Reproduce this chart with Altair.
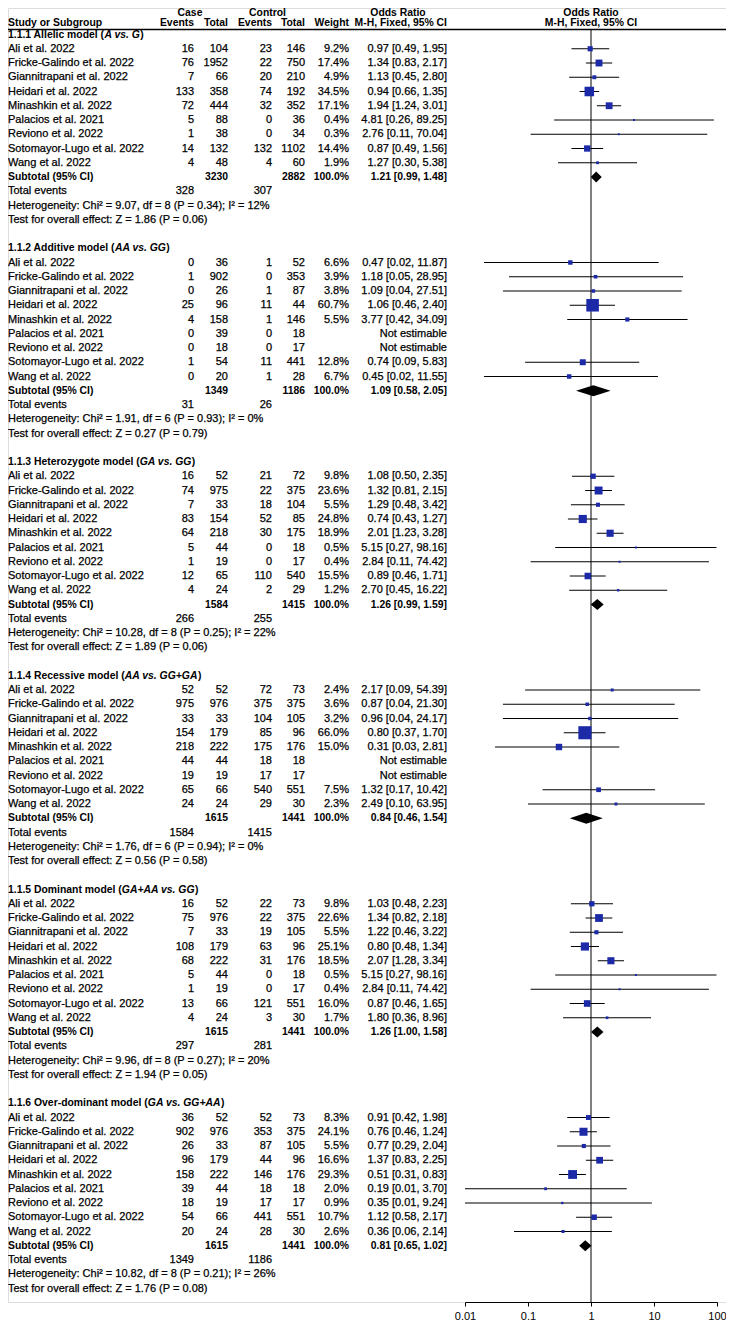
import altair as alt
import pandas as pd

FONT = "Liberation Sans"
FS = 11      # regular text
FSB = 10.4   # bold text

# ---------------- data ----------------
studies = ["Ali et al. 2022", "Fricke-Galindo et al. 2022", "Giannitrapani et al. 2022",
           "Heidari et al. 2022", "Minashkin et al. 2022", "Palacios et al. 2021",
           "Reviono et al. 2022", "Sotomayor-Lugo et al. 2022", "Wang et al. 2022"]

group_codes = ["1.1.1", "1.1.2", "1.1.3", "1.1.4", "1.1.5", "1.1.6"]
group_names = ["Allelic model", "Additive model", "Heterozygote model",
               "Recessive model", "Dominant model", "Over-dominant model"]
group_contrasts = ["A vs. G", "AA vs. GG", "GA vs. GG", "AA vs. GG+GA",
                   "GA+AA vs. GG", "GA vs. GG+AA"]

case_events = [
    [16, 76, 7, 133, 72, 5, 1, 14, 4],
    [0, 1, 0, 25, 4, 0, 0, 1, 0],
    [16, 74, 7, 83, 64, 5, 1, 12, 4],
    [52, 975, 33, 154, 218, 44, 19, 65, 24],
    [16, 75, 7, 108, 68, 5, 1, 13, 4],
    [36, 902, 26, 96, 158, 39, 18, 54, 20],
]
case_totals = [
    [104, 1952, 66, 358, 444, 88, 38, 132, 48],
    [36, 902, 26, 96, 158, 39, 18, 54, 20],
    [52, 975, 33, 154, 218, 44, 19, 65, 24],
    [52, 976, 33, 179, 222, 44, 19, 66, 24],
    [52, 976, 33, 179, 222, 44, 19, 66, 24],
    [52, 976, 33, 179, 222, 44, 19, 66, 24],
]
control_events = [
    [23, 22, 20, 74, 32, 0, 0, 132, 4],
    [1, 0, 1, 11, 1, 0, 0, 11, 1],
    [21, 22, 18, 52, 30, 0, 0, 110, 2],
    [72, 375, 104, 85, 175, 18, 17, 540, 29],
    [22, 22, 19, 63, 31, 0, 0, 121, 3],
    [52, 353, 87, 44, 146, 18, 17, 441, 28],
]
control_totals = [
    [146, 750, 210, 192, 352, 36, 34, 1102, 60],
    [52, 353, 87, 44, 146, 18, 17, 441, 28],
    [72, 375, 104, 85, 175, 18, 17, 540, 29],
    [73, 375, 105, 96, 176, 18, 17, 551, 30],
    [73, 375, 105, 96, 176, 18, 17, 551, 30],
    [73, 375, 105, 96, 176, 18, 17, 551, 30],
]
weights = [
    [9.2, 17.4, 4.9, 34.5, 17.1, 0.4, 0.3, 14.4, 1.9],
    [6.6, 3.9, 3.8, 60.7, 5.5, None, None, 12.8, 6.7],
    [9.8, 23.6, 5.5, 24.8, 18.9, 0.5, 0.4, 15.5, 1.2],
    [2.4, 3.6, 3.2, 66.0, 15.0, None, None, 7.5, 2.3],
    [9.8, 22.6, 5.5, 25.1, 18.5, 0.5, 0.4, 16.0, 1.7],
    [8.3, 24.1, 5.5, 16.6, 29.3, 2.0, 0.9, 10.7, 2.6],
]
odds_ratio = [
    [0.97, 1.34, 1.13, 0.94, 1.94, 4.81, 2.76, 0.87, 1.27],
    [0.47, 1.18, 1.09, 1.06, 3.77, None, None, 0.74, 0.45],
    [1.08, 1.32, 1.29, 0.74, 2.01, 5.15, 2.84, 0.89, 2.70],
    [2.17, 0.87, 0.96, 0.80, 0.31, None, None, 1.32, 2.49],
    [1.03, 1.34, 1.22, 0.80, 2.07, 5.15, 2.84, 0.87, 1.80],
    [0.91, 0.76, 0.77, 1.37, 0.51, 0.19, 0.35, 1.12, 0.36],
]
ci_lower = [
    [0.49, 0.83, 0.45, 0.66, 1.24, 0.26, 0.11, 0.49, 0.30],
    [0.02, 0.05, 0.04, 0.46, 0.42, None, None, 0.09, 0.02],
    [0.50, 0.81, 0.48, 0.43, 1.23, 0.27, 0.11, 0.46, 0.45],
    [0.09, 0.04, 0.04, 0.37, 0.03, None, None, 0.17, 0.10],
    [0.48, 0.82, 0.46, 0.48, 1.28, 0.27, 0.11, 0.46, 0.36],
    [0.42, 0.46, 0.29, 0.83, 0.31, 0.01, 0.01, 0.58, 0.06],
]
ci_upper = [
    [1.95, 2.17, 2.80, 1.35, 3.01, 89.25, 70.04, 1.56, 5.38],
    [11.87, 28.95, 27.51, 2.40, 34.09, None, None, 5.83, 11.55],
    [2.35, 2.15, 3.42, 1.27, 3.28, 98.16, 74.42, 1.71, 16.22],
    [54.39, 21.30, 24.17, 1.70, 2.81, None, None, 10.42, 63.95],
    [2.23, 2.18, 3.22, 1.34, 3.34, 98.16, 74.42, 1.65, 8.96],
    [1.98, 1.24, 2.04, 2.25, 0.83, 3.70, 9.24, 2.17, 2.14],
]
sub_case_total = [3230, 1349, 1584, 1615, 1615, 1615]
sub_control_total = [2882, 1186, 1415, 1441, 1441, 1441]
sub_or = [1.21, 1.09, 1.26, 0.84, 1.26, 0.81]
sub_lo = [0.99, 0.58, 0.99, 0.46, 1.00, 0.65]
sub_hi = [1.48, 2.05, 1.59, 1.54, 1.58, 1.02]
tot_case_events = [328, 31, 266, 1584, 297, 1349]
tot_control_events = [307, 26, 255, 1415, 281, 1186]
het_chi2 = ["9.07", "1.91", "10.28", "1.76", "9.96", "10.82"]
het_df = [8, 6, 8, 6, 8, 8]
het_p = ["0.34", "0.93", "0.25", "0.94", "0.27", "0.21"]
het_i2 = [12, 0, 22, 0, 20, 26]
z_vals = ["1.86", "0.27", "1.89", "0.56", "1.94", "1.76"]
z_p = ["0.06", "0.79", "0.06", "0.58", "0.05", "0.08"]
axis_ticks = [0.01, 0.1, 1, 10, 100]

# ---------------- layout (page pixels) ----------------
W = 718
AXIS_PAGE = 1302
HEIGHT = AXIS_PAGE - 8
ROW = 14.25
FIRST_PAGE = 34.5         # page y of the first group title
HDR1_PAGE = 13.0          # "Case / Control / Odds Ratio"
HDR2_PAGE = 22.5          # "Study or Subgroup ..."
RULE_PAGE = 29.5          # header underline
DIAMOND_HALF = 5.6

def row_y(g, k):
    return FIRST_PAGE + (15 * g + k) * ROW

YS = alt.Scale(domain=[8, 8 + HEIGHT], range=[0, HEIGHT], nice=False, zero=False)
XS = alt.Scale(type="log", domain=[0.01, 100], range=[457, 709], nice=False)
XAXIS = alt.Axis(values=axis_ticks, format="~g", title=None, grid=False,
                 labelFont=FONT, labelFontSize=FS, labelColor="black",
                 domainColor="black", tickColor="black", tickSize=4,
                 labelPadding=4, labelFlush=False, labelOverlap=False)

COLS = {
    "name": (0, "left"),
    "cev": (186, "right"),
    "ctot": (220, "right"),
    "kev": (264, "right"),
    "ktot": (297, "right"),
    "wt": (341, "right"),
    "or": (439, "right"),
    "h_case": (182, "center"),
    "h_ctrl": (259.5, "center"),
    "h_or": (390, "center"),
    "h_plot": (583, "center"),
}

# Arial/Helvetica Bold advance widths (per 1000 em) for title pieces
AB = {" ": 278, "(": 333, ")": 333, "+": 584, "-": 333, ".": 278,
      "A": 722, "D": 722, "G": 778, "H": 722, "O": 778, "R": 722,
      "a": 556, "c": 556, "d": 611, "e": 556, "g": 611, "i": 278, "l": 278,
      "m": 889, "n": 611, "o": 611, "r": 389, "s": 556, "t": 333, "v": 556,
      "y": 556, "z": 500, "u": 611}
def tw(s):
    return sum(AB.get(c, 556) for c in s) * FSB / 1000.0

records = []
def add(y, text, col, weight="normal"):
    records.append({"y": y, "text": str(text), "col": col, "weight": weight})

add(HDR1_PAGE, "Case", "h_case", "bold")
add(HDR1_PAGE, "Control", "h_ctrl", "bold")
add(HDR1_PAGE, "Odds Ratio", "h_or", "bold")
add(HDR1_PAGE, "Odds Ratio", "h_plot", "bold")
add(HDR2_PAGE, "Study or Subgroup", "name", "bold")
add(HDR2_PAGE, "Events", "cev", "bold")
add(HDR2_PAGE, "Total", "ctot", "bold")
add(HDR2_PAGE, "Events", "kev", "bold")
add(HDR2_PAGE, "Total", "ktot", "bold")
add(HDR2_PAGE, "Weight", "wt", "bold")
add(HDR2_PAGE, "M-H, Fixed, 95% CI", "or", "bold")
add(HDR2_PAGE, "M-H, Fixed, 95% CI", "h_plot", "bold")

title_pieces = []
for g in range(6):
    prefix = f"{group_codes[g]} {group_names[g]} ("
    x1 = tw(prefix)
    x2 = x1 + tw(group_contrasts[g])
    ty = row_y(g, 0)
    title_pieces.append((ty, prefix, 0, "normal"))
    title_pieces.append((ty, group_contrasts[g], x1, "italic"))
    title_pieces.append((ty, ")", x2, "normal"))
    for i, s in enumerate(studies):
        y = row_y(g, 1 + i)
        add(y, s, "name")
        add(y, case_events[g][i], "cev")
        add(y, case_totals[g][i], "ctot")
        add(y, control_events[g][i], "kev")
        add(y, control_totals[g][i], "ktot")
        if weights[g][i] is not None:
            add(y, f"{weights[g][i]:.1f}%", "wt")
            add(y, f"{odds_ratio[g][i]:.2f} [{ci_lower[g][i]:.2f}, {ci_upper[g][i]:.2f}]", "or")
        else:
            add(y, "Not estimable", "or")
    y = row_y(g, 10)
    add(y, "Subtotal (95% CI)", "name", "bold")
    add(y, sub_case_total[g], "ctot", "bold")
    add(y, sub_control_total[g], "ktot", "bold")
    add(y, "100.0%", "wt", "bold")
    add(y, f"{sub_or[g]:.2f} [{sub_lo[g]:.2f}, {sub_hi[g]:.2f}]", "or", "bold")
    add(row_y(g, 11), "Total events", "name")
    add(row_y(g, 11), tot_case_events[g], "cev")
    add(row_y(g, 11), tot_control_events[g], "kev")
    add(row_y(g, 12), f"Heterogeneity: Chi\u00b2 = {het_chi2[g]}, df = {het_df[g]} (P = {het_p[g]}); I\u00b2 = {het_i2[g]}%", "name")
    add(row_y(g, 13), f"Test for overall effect: Z = {z_vals[g]} (P = {z_p[g]})", "name")

tdf = pd.DataFrame(records)

layers = []
base = pd.DataFrame({"a": [0]})

# line of no effect (carries the x axis)
layers.append(alt.Chart(base).mark_rule(color="black", strokeWidth=1).encode(
    x=alt.datum(1, type="quantitative", scale=XS, axis=XAXIS),
    y=alt.value(RULE_PAGE - 8), y2=alt.value(HEIGHT)))

# header underline
layers.append(alt.Chart(base).mark_rule(color="black", strokeWidth=1.5).encode(
    x=alt.value(0), x2=alt.value(W), y=alt.value(RULE_PAGE - 8)))

# study CIs and squares
frows = []
for g in range(6):
    for i in range(9):
        if odds_ratio[g][i] is not None:
            frows.append({"y": row_y(g, 1 + i), "est": odds_ratio[g][i],
                          "lo": ci_lower[g][i], "hi": ci_upper[g][i], "w": weights[g][i]})
fdf = pd.DataFrame(frows)
layers.append(alt.Chart(fdf).mark_rule(color="black", strokeWidth=1).encode(
    x=alt.X("lo:Q", scale=XS, axis=XAXIS), x2="hi:Q",
    y=alt.Y("y:Q", scale=YS, axis=None)))
layers.append(alt.Chart(fdf).mark_square(color="#1c2aa8", opacity=1, filled=True).encode(
    x=alt.X("est:Q", scale=XS, axis=XAXIS),
    y=alt.Y("y:Q", scale=YS, axis=None),
    size=alt.Size("w:Q", scale=alt.Scale(domain=[0, 70], range=[3, 70 * 2.6]), legend=None)))

# subtotal diamonds
drows = []
for g in range(6):
    y = row_y(g, 10)
    drows.append({"g": g, "x": sub_lo[g], "ya": y, "yb": y})
    drows.append({"g": g, "x": sub_or[g], "ya": y - DIAMOND_HALF, "yb": y + DIAMOND_HALF})
    drows.append({"g": g, "x": sub_hi[g], "ya": y, "yb": y})
ddf = pd.DataFrame(drows)
layers.append(alt.Chart(ddf).mark_area(color="black", orient="vertical", opacity=1).encode(
    x=alt.X("x:Q", scale=XS, axis=XAXIS),
    y=alt.Y("ya:Q", scale=YS, axis=None), y2="yb:Q",
    detail="g:N"))

# table text (regular text slightly emboldened to match the dense print)
for (col, weight), sub in tdf.groupby(["col", "weight"]):
    x, align = COLS[col]
    extra = {} if weight == "bold" else {"stroke": "black", "strokeWidth": 0.25}
    layers.append(alt.Chart(sub[["y", "text"]]).mark_text(
        align=align, baseline="middle", font=FONT,
        fontSize=FSB if weight == "bold" else FS, fontWeight=weight,
        color="black", **extra).encode(
        x=alt.value(x), y=alt.Y("y:Q", scale=YS, axis=None), text="text:N"))

for ty, txt, x, style in title_pieces:
    layers.append(alt.Chart(pd.DataFrame({"y": [ty], "text": [txt]})).mark_text(
        align="left", baseline="middle", font=FONT, fontSize=FSB, fontWeight="bold",
        fontStyle=style, color="black").encode(
        x=alt.value(x), y=alt.Y("y:Q", scale=YS, axis=None), text="text:N"))

chart = alt.layer(*layers).properties(
    width=W, height=HEIGHT,
    padding={"top": 0, "left": 0, "right": 0, "bottom": 26},
    autosize=alt.AutoSizeParams(type="none"),
).configure_view(stroke=None).configure(background="white")

chart.save("out.html", embed_options={"renderer": "svg", "actions": False})
